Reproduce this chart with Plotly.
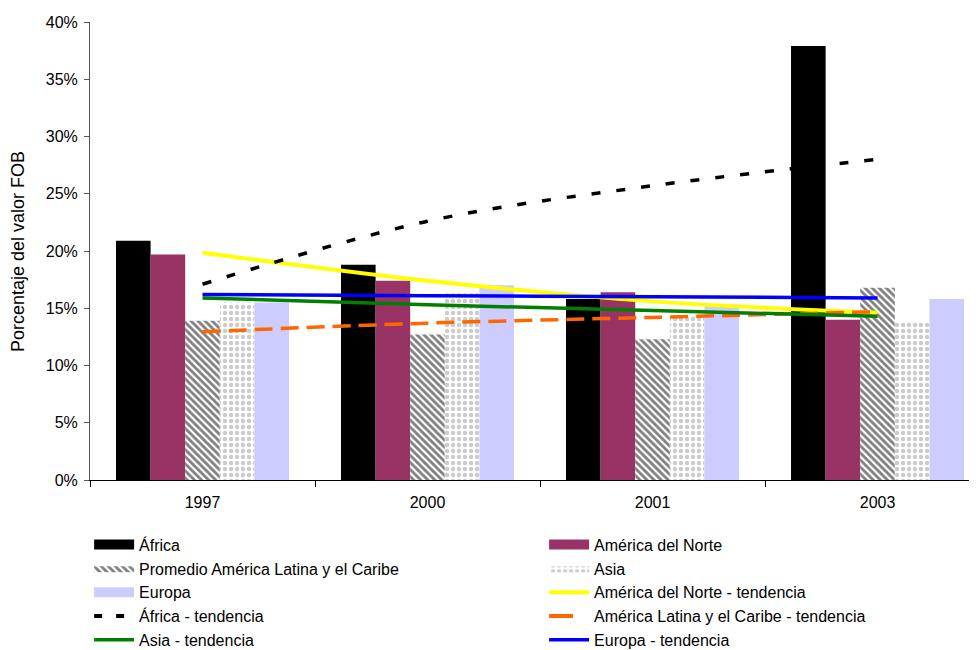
import plotly.graph_objects as go

categories = ["1997", "2000", "2001", "2003"]

africa = [20.9, 18.8, 15.8, 37.9]
america_norte = [19.7, 17.4, 16.4, 14.0]
promedio_alc = [13.9, 12.7, 12.3, 16.8]
asia = [15.5, 16.3, 14.4, 13.8]
europa = [15.5, 17.0, 15.2, 15.8]

# trend values at each category
tend_america_norte = [19.85, 17.4, 15.6, 14.6]
tend_africa = [17.1, 22.6, 25.7, 28.0]
tend_alc = [12.95, 13.7, 14.2, 14.7]
tend_asia = [15.9, 15.3, 14.8, 14.3]
tend_europa = [16.2, 16.1, 16.0, 15.9]

y_ticks = [0, 5, 10, 15, 20, 25, 30, 35, 40]
y_tick_labels = ["0%", "5%", "10%", "15%", "20%", "25%", "30%", "35%", "40%"]

FONT = "Liberation Sans, Arial, sans-serif"

STRIPES = dict(shape="\\", fgcolor="#000000", bgcolor="#ffffff", size=5, solidity=0.55)
DOTS = dict(shape=".", fgcolor="#9a9a9a", bgcolor="#ffffff", size=6, solidity=0.45)

fig = go.Figure()

# bars (legend entries drawn by proxy traces below)
fig.add_trace(go.Bar(name="África", x=categories, y=africa, showlegend=False,
                     marker=dict(color="#000000", line=dict(width=0))))
fig.add_trace(go.Bar(name="América del Norte", x=categories, y=america_norte, showlegend=False,
                     marker=dict(color="#993366", line=dict(width=0))))
fig.add_trace(go.Bar(name="Promedio América Latina y el Caribe", x=categories, y=promedio_alc,
                     showlegend=False,
                     marker=dict(color="#ffffff", line=dict(width=0), pattern=STRIPES)))
fig.add_trace(go.Bar(name="Asia", x=categories, y=asia, showlegend=False,
                     marker=dict(color="#ffffff", line=dict(width=0), pattern=DOTS)))
fig.add_trace(go.Bar(name="Europa", x=categories, y=europa, showlegend=False,
                     marker=dict(color="#ccccff", line=dict(width=0))))

# trend lines
fig.add_trace(go.Scatter(name="América del Norte - tendencia", x=categories, y=tend_america_norte,
                         mode="lines", showlegend=False,
                         line=dict(color="#ffff00", width=4, shape="spline")))
fig.add_trace(go.Scatter(name="África - tendencia", x=categories, y=tend_africa,
                         mode="lines", showlegend=False,
                         line=dict(color="#000000", width=3.5, dash="9px,16px", shape="spline")))
fig.add_trace(go.Scatter(name="América Latina y el Caribe - tendencia", x=categories, y=tend_alc,
                         mode="lines", showlegend=False,
                         line=dict(color="#ff6600", width=3.5, dash="18px,8px", shape="spline")))
fig.add_trace(go.Scatter(name="Asia - tendencia", x=categories, y=tend_asia,
                         mode="lines", showlegend=False,
                         line=dict(color="#008000", width=3.5, shape="spline")))
fig.add_trace(go.Scatter(name="Europa - tendencia", x=categories, y=tend_europa,
                         mode="lines", showlegend=False,
                         line=dict(color="#0000ff", width=3.5, shape="spline")))

# legend proxies (no data drawn)
def legend_line(name, color, width, dash="solid"):
    fig.add_trace(go.Scatter(name=name, x=[None], y=[None], mode="lines",
                             line=dict(color=color, width=width, dash=dash)))

def legend_pattern(name, pattern):
    fig.add_trace(go.Scatter(name=name, x=[None, None, None], y=[None, None, None], mode="lines",
                             fill="toself", fillcolor="#ffffff", fillpattern=pattern,
                             line=dict(width=0, color="#ffffff")))

legend_line("África", "#000000", 10)
legend_line("América del Norte", "#993366", 10)
legend_pattern("Promedio América Latina y el Caribe", STRIPES)
legend_pattern("Asia", DOTS)
legend_line("Europa", "#ccccff", 10)
legend_line("América del Norte - tendencia", "#ffff00", 4)
legend_line("África - tendencia", "#000000", 4, "8px,14px")
legend_line("América Latina y el Caribe - tendencia", "#ff6600", 4, "24px,30px")
legend_line("Asia - tendencia", "#008000", 3.5)
legend_line("Europa - tendencia", "#0000ff", 3.5)

fig.update_layout(
    width=969, height=642,
    margin=dict(l=82, r=0, t=14, b=170, autoexpand=False),
    paper_bgcolor="white", plot_bgcolor="white",
    font=dict(family=FONT, color="black"),
    barmode="group", bargap=0.231, bargroupgap=0,
    showlegend=True,
    legend=dict(orientation="h", x=-0.001, xanchor="left", y=-0.104, yanchor="top",
                entrywidth=400, entrywidthmode="pixels",
                font=dict(size=16, family=FONT), tracegroupgap=0,
                itemwidth=40, traceorder="normal"),
    xaxis=dict(type="category", range=[-0.5, 3.442], tickson="boundaries",
               ticks="outside", ticklen=6, tickcolor="black",
               showline=True, linecolor="black", linewidth=1, automargin=False,
               ticklabelstandoff=8,
               showgrid=False, tickfont=dict(size=16, family=FONT)),
    yaxis=dict(range=[0, 40], tickmode="array", tickvals=y_ticks, ticktext=y_tick_labels,
               ticks="outside", ticklen=5, tickcolor="#555555",
               showline=True, linecolor="#555555", linewidth=1, automargin=False,
               ticklabelstandoff=3,
               showgrid=False, zeroline=False, tickfont=dict(size=16, family=FONT)),
    annotations=[dict(text="Porcentaje del valor FOB", xref="paper", yref="paper",
                      x=-0.0812, y=0.5, xanchor="center", yanchor="middle",
                      textangle=-90, showarrow=False, font=dict(size=18, family=FONT))],
)

fig.write_html("out.html")
